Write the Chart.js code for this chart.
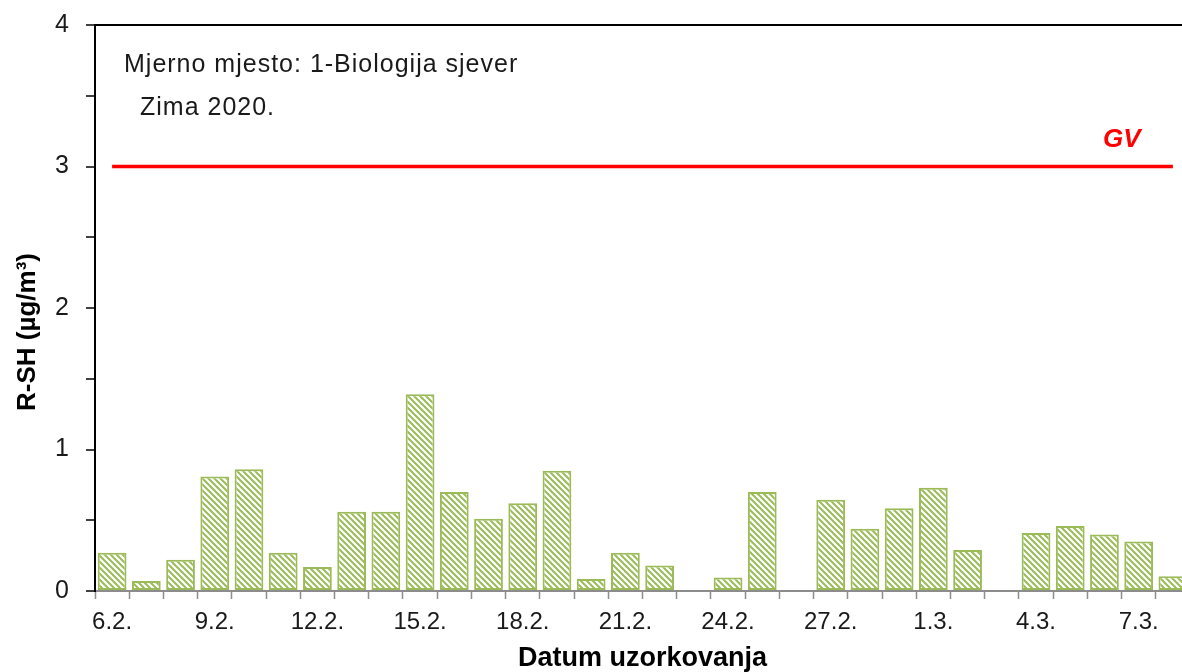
<!DOCTYPE html>
<html>
<head>
<meta charset="utf-8">
<script src="https://cdn.jsdelivr.net/npm/chart.js@4.4.1/dist/chart.umd.min.js"></script>
<style>
  html, body { margin: 0; padding: 0; background: #fff; overflow: hidden; }
  #wrap { position: relative; width: 1190px; height: 672px; }
</style>
</head>
<body>
<div id="wrap"><canvas id="c" width="1190" height="672"></canvas></div>
<script>
// ---- data ----
const categories = ['6.2.','7.2.','8.2.','9.2.','10.2.','11.2.','12.2.','13.2.','14.2.','15.2.','16.2.','17.2.','18.2.','19.2.','20.2.','21.2.','22.2.','23.2.','24.2.','25.2.','26.2.','27.2.','28.2.','29.2.','1.3.','2.3.','3.3.','4.3.','5.3.','6.3.','7.3.','8.3.'];
const rshValues = [0.27,0.07,0.22,0.81,0.86,0.27,0.17,0.56,0.56,1.39,0.70,0.51,0.62,0.85,0.085,0.27,0.18,null,0.095,0.70,null,0.645,0.44,0.585,0.73,0.29,null,0.41,0.46,0.40,0.35,0.105];
const gvValues = [3,3,3,3,3,3,3,3,3,3,3,3,3,3,3,3,3,3,3,3,3,3,3,3,3,3,3,3,3,3,3,3];
const shownTickLabels = ['6.2.','9.2.','12.2.','15.2.','18.2.','21.2.','24.2.','27.2.','1.3.','4.3.','7.3.'];
const yTickLabels = ['0','1','2','3','4'];
const stationText = 'Mjerno mjesto: 1-Biologija sjever';
const seasonText = 'Zima 2020.';
const gvLabel = 'GV';
const yTitle = 'R-SH (µg/m³)';
const xTitle = 'Datum uzorkovanja';

// ---- hatch pattern ----
const GREEN = '#9BBB59';
function makeHatch() {
  const p = document.createElement('canvas');
  p.width = 6; p.height = 6;
  const g = p.getContext('2d');
  g.fillStyle = '#ffffff';
  g.fillRect(0, 0, 6, 6);
  g.strokeStyle = GREEN;
  g.lineWidth = 2;
  for (const x0 of [-6, 0, 6]) {
    g.beginPath();
    g.moveTo(x0 - 1, -1);
    g.lineTo(x0 + 7, 7);
    g.stroke();
  }
  return g.createPattern(p, 'repeat');
}

const FONT = '"Liberation Sans", Arial, sans-serif';

const annotations = {
  id: 'annotations',
  afterDatasetsDraw(chart) {
    const ctx = chart.ctx;
    ctx.save();
    ctx.textAlign = 'left';
    ctx.textBaseline = 'alphabetic';
    ctx.fillStyle = '#1a1a1a';
    ctx.font = '25px ' + FONT;
    try { ctx.letterSpacing = '1px'; } catch (e) {}
    ctx.fillText(stationText, 124, 72);
    ctx.fillText(seasonText, 140, 115);
    try { ctx.letterSpacing = '0px'; } catch (e) {}
    ctx.fillStyle = '#ff0000';
    ctx.font = 'italic bold 26px ' + FONT;
    ctx.fillText(gvLabel, 1103, 147);
    // y axis title
    ctx.fillStyle = '#000';
    ctx.font = 'bold 26px ' + FONT;
    ctx.translate(35, 332);
    ctx.rotate(-Math.PI / 2);
    ctx.textAlign = 'center';
    ctx.fillText(yTitle, 0, 0);
    ctx.restore();
  }
};

new Chart(document.getElementById('c'), {
  data: {
    labels: categories,
    datasets: [
      {
        type: 'line',
        label: 'GV',
        data: gvValues,
        borderColor: '#ff0000',
        borderWidth: 3.5,
        pointRadius: 0,
        fill: false,
        order: 0
      },
      {
        type: 'bar',
        label: 'R-SH',
        data: rshValues,
        backgroundColor: makeHatch(),
        borderColor: GREEN,
        borderWidth: 2,
        borderSkipped: false,
        barPercentage: 0.84,
        categoryPercentage: 1.0,
        order: 1
      }
    ]
  },
  options: {
    responsive: false,
    animation: false,
    layout: { padding: { top: 25, right: 0, bottom: 0, left: 0 } },
    plugins: { legend: { display: false }, tooltip: { enabled: false } },
    scales: {
      x: {
        type: 'category',
        offset: true,
        afterFit(s) { s.height = 81; },
        grid: {
          offset: true,
          drawOnChartArea: false,
          tickLength: 8,
          tickColor: '#8c8c8c',
          tickWidth: 1.5
        },
        border: { display: true, color: '#8c8c8c', width: 2 },
        ticks: {
          autoSkip: false,
          maxRotation: 0,
          minRotation: 0,
          padding: 9,
          color: '#1a1a1a',
          font: { family: FONT, size: 24 },
          callback(val, idx) {
            const l = categories[idx];
            return shownTickLabels.includes(l) ? l : '';
          }
        },
        title: {
          display: true,
          text: xTitle,
          color: '#000',
          font: { family: FONT, size: 27, weight: 'bold', lineHeight: 1.0 },
          padding: { top: 0, bottom: 0 }
        }
      },
      y: {
        min: 0,
        max: 4,
        afterFit(s) { s.width = 95; s.paddingTop = 0; s.paddingBottom = 0; },
        grid: {
          drawOnChartArea: true,
          color: (c) => (c.tick && c.tick.value === 4 ? '#000' : 'rgba(0,0,0,0)'),
          lineWidth: 2,
          tickLength: 9,
          tickColor: '#000',
          tickWidth: 1.5
        },
        border: { display: true, color: '#000', width: 2 },
        ticks: {
          stepSize: 0.5,
          padding: 17,
          color: '#1a1a1a',
          font: { family: FONT, size: 25 },
          callback(v) {
            return Number.isInteger(v) ? yTickLabels[v] : '';
          }
        },
        title: { display: false }
      }
    }
  },
  plugins: [annotations]
});
</script>
</body>
</html>
